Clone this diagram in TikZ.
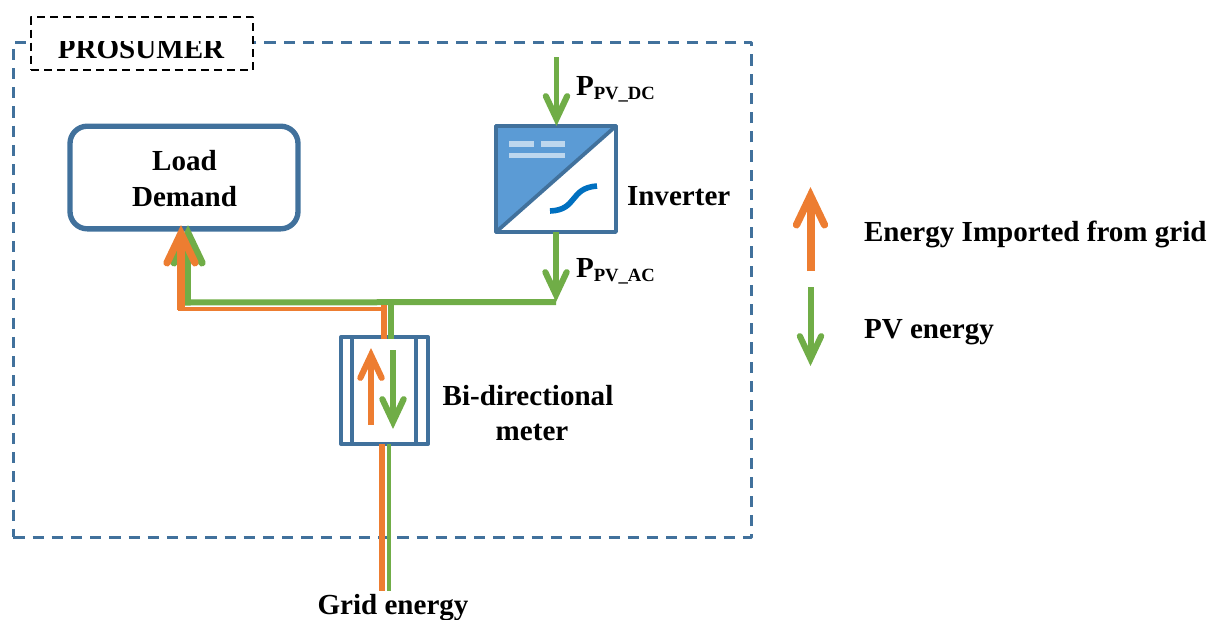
\documentclass[tikz,border=0pt]{standalone}
\usepackage{fontspec}
\setmainfont{Liberation Serif}
\usetikzlibrary{arrows.meta}
\definecolor{cblue}{HTML}{41719C}
\definecolor{cfill}{HTML}{5B9BD5}
\definecolor{ccurve}{HTML}{0070C0}
\definecolor{corange}{HTML}{ED7D31}
\definecolor{cgreen}{HTML}{70AD47}
\tikzset{
  x=0.75pt,y=-0.75pt,
  txt/.style={font=\fontsize{21.8}{27}\selectfont\bfseries,inner sep=0pt,outer sep=0pt,text=black},
  boxline/.style={draw=cblue,inner sep=0pt,outer sep=0pt,line join=round},
  olive/.style={draw=cgreen,line cap=butt},
  oran/.style={draw=corange,line cap=butt},
  tipbig/.style={-{Straight Barb[line cap=round,length=22pt,width=21pt,line width=5.5pt]}},
  tipsmall/.style={-{Straight Barb[line cap=round,length=17pt,width=16pt,line width=4.6pt]}},
}
\newcommand{\pvsub}[1]{\raisebox{-3pt}{\fontsize{14}{14}\selectfont #1}}
\begin{document}
\begin{tikzpicture}
\useasboundingbox (0,0) rectangle (1209,619);
% outer frame
\node[boxline,line width=2.3pt,dash pattern=on 8.4pt off 6pt,minimum width=553.5pt,minimum height=371.25pt] (frame) at (382.3,289.7) {};
% title
\node[draw=black,fill=white,line width=1.6pt,dash pattern=on 6pt off 3.8pt,inner sep=0pt,outer sep=0pt,line join=round,minimum width=166.5pt,minimum height=39.75pt] (tag) at (142,43.5) {};
\begin{scope}
\clip (33,41) rectangle (251,68);
\node[txt,anchor=base] (tagtxt) at (141,58) {PROSUMER};
\end{scope}
% load
\node[boxline,line width=4pt,rounded corners=13pt,minimum width=171pt,minimum height=77pt] (load) at (184,177.5) {};
\node[txt,align=center] (loadtxt) at (184.5,179) {Load\\Demand};
% inverter
\node[boxline,line width=2.8pt,minimum width=90pt,minimum height=79.5pt] (inv) at (556,179) {};
\fill[cfill] (inv.north west) -- (inv.north east) -- (inv.south west) -- cycle;
\draw[cblue,line width=2.8pt,line join=round] (inv.north west) -- (inv.north east) -- (inv.south west) -- cycle;
\fill[white,opacity=.6] (509,141) rectangle (534,147);
\fill[white,opacity=.6] (541,141) rectangle (565,147);
\fill[white,opacity=.6] (509,153) rectangle (565,158);
\coordinate (curveA) at (550,211);
\coordinate (curveB) at (597,186);
\draw[ccurve,line width=4.2pt] (curveA) .. controls (578,210) and (569,188) .. (curveB);
\node[txt,anchor=base west] (invlab) at (627,205) {Inverter};
% DC / AC
\coordinate (dcin) at (556.5,57);
\coordinate (dcend) at (556.5,126);
\coordinate (acout) at (556,232);
\coordinate (acend) at (556,302);
\draw[olive,line width=4.4pt,tipsmall] (dcin) -- (dcend);
\draw[olive,line width=4.2pt,tipsmall] (acout) -- (acend);
\node[txt,anchor=base west] (pdc) at (576,95) {P\pvsub{PV\_DC}};
\node[txt,anchor=base west] (pac) at (576,277) {P\pvsub{PV\_AC}};
% meter
\node[boxline,line width=3pt,minimum width=65.25pt,minimum height=80.25pt] (meter) at (384.5,390.5) {};
\coordinate (mL1) at (352,337); \coordinate (mL2) at (352,444);
\coordinate (mR1) at (416,337); \coordinate (mR2) at (416,444);
\draw[cblue,line width=3pt] (mL1) -- (mL2);
\draw[cblue,line width=3pt] (mR1) -- (mR2);
\coordinate (mo1) at (371,425); \coordinate (mo2) at (371,348);
\coordinate (mg1) at (393,350); \coordinate (mg2) at (393,429);
\draw[oran,line width=4.4pt,tipsmall] (mo1) -- (mo2);
\draw[olive,line width=4.4pt,tipsmall] (mg1) -- (mg2);
\node[txt,anchor=base] (bi) at (528,405) {Bi-directional};
\node[txt,anchor=base] (mt) at (532,440) {meter};
% bus
\coordinate (gTop) at (390.7,339); \coordinate (gBus) at (390.7,302.5);
\coordinate (oTop) at (384,339); \coordinate (oBus) at (384,305);
\coordinate (busL) at (183,302.5);
\coordinate (oBusR) at (384,309); \coordinate (oBusL) at (178,309);
\coordinate (gv1) at (188,303); \coordinate (gv2) at (188,225);
\coordinate (ov1) at (181,310); \coordinate (ov2) at (181,225);
\draw[olive,line width=4.5pt] (acend) -- (busL);
\draw[olive,line width=4.5pt] (gTop) -- (gBus);
\draw[oran,line width=2.6pt] (oBusR) -- (oBusL);
\draw[oran,line width=4.5pt] (oTop) -- (oBus);
\draw[olive,line width=5pt,tipbig] (gv1) -- (gv2);
\draw[oran,line width=6pt,tipbig] (ov1) -- (ov2);
% grid
\coordinate (go1) at (382,444); \coordinate (go2) at (382,591);
\coordinate (gg1) at (389,444); \coordinate (gg2) at (389,591);
\draw[oran,line width=4.5pt] (go1) -- (go2);
\draw[olive,line width=3pt] (gg1) -- (gg2);
\node[txt,anchor=base] (grid) at (393,614.5) {Grid energy};
% legend
\coordinate (lo1) at (810.5,271); \coordinate (lo2) at (810.5,187);
\coordinate (lg1) at (810.5,287); \coordinate (lg2) at (810.5,366);
\draw[oran,line width=6pt,tipbig] (lo1) -- (lo2);
\draw[olive,line width=4.5pt,tipsmall] (lg1) -- (lg2);
\node[txt,anchor=base west] (l1) at (864,241) {Energy Imported from grid};
\node[txt,anchor=base west] (l2) at (864,338) {PV energy};
\end{tikzpicture}
\end{document}
